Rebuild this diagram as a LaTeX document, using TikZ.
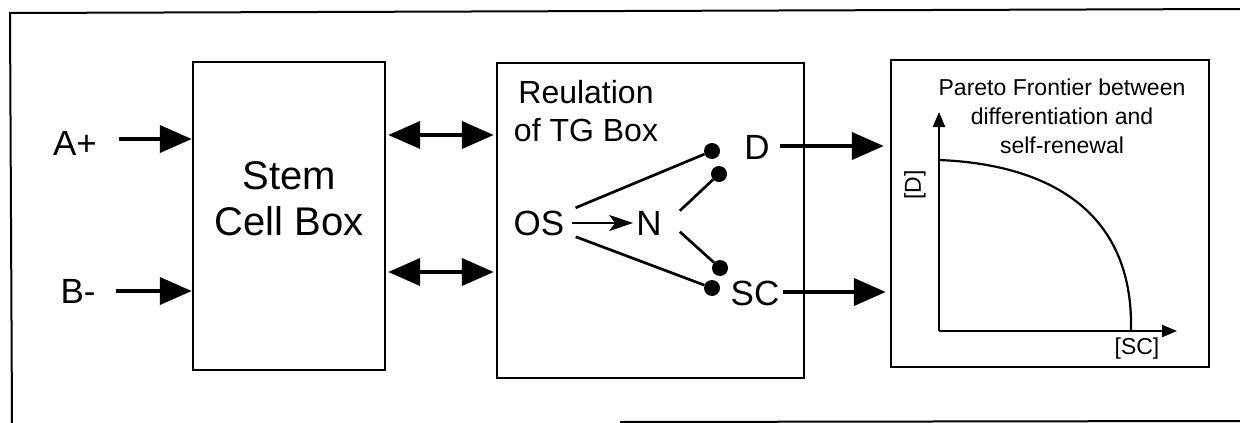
\documentclass[tikz,border=0pt]{standalone}
\usepackage{fontspec}
\setmainfont{Liberation Sans}
\usetikzlibrary{arrows.meta}
\begin{document}
\begin{tikzpicture}[x=1pt,y=-1pt,
  box/.style={draw,line width=2.4pt,inner sep=0,fill=none},
  txt/.style={inner sep=0,align=center},
  bigarrow/.style={line width=4pt,-{Triangle[length=32pt,width=27pt]}},
  dblarrow/.style={line width=4pt,{Triangle[length=32pt,width=27pt]}-{Triangle[length=32pt,width=27pt]}},
  thinarrow/.style={line width=2.2pt,-{Stealth[length=24pt,width=16pt,inset=6pt]}},
  link/.style={line width=2.7pt},
  dot/.style={circle,fill=black,inner sep=0,minimum size=16pt},
  axis/.style={line width=2.4pt,-{Triangle[length=15pt,width=12pt]}},
  big/.style={font=\fontsize{40}{46}\selectfont},
  mid/.style={font=\fontsize{35}{40}\selectfont},
  reg/.style={font=\fontsize{32}{38}\selectfont},
  small/.style={font=\fontsize{23}{29}\selectfont},
]
\useasboundingbox (0,0) rectangle (1240,423);
% outer frame (partly cut off)
\draw[line width=2pt] (1240,9) -- (10,13) -- (12,423);
\draw[line width=2pt] (620,422) -- (1240,421);

% stem cell box
\node[box,minimum width=192pt,minimum height=308pt] (stem) at (289,216) {};
\node[txt,big] (stemtxt) at (289,199) {Stem\\Cell Box};
\node[txt,mid] (aplus) at (75,143) {A+};
\node[txt,mid] (bminus) at (78,291) {B-};
\draw[bigarrow] ([xshift=22pt,yshift=4pt]aplus.east) -- ([yshift=4pt]aplus.east -| stem.west);
\draw[bigarrow] ([xshift=20pt]bminus.east) -- (bminus.east -| stem.west);

% regulation box
\node[box,minimum width=307pt,minimum height=315pt] (reg) at (650.5,220.5) {};
\node[txt,reg] (regtxt) at (586,111) {Reulation\\of TG Box};
\coordinate (u1) at (0,135);
\coordinate (u2) at (0,272);
\draw[dblarrow] ([xshift=2pt]stem.east |- u1) -- ([xshift=-2pt]reg.west |- u1);
\draw[dblarrow] ([xshift=2pt]stem.east |- u2) -- ([xshift=-2pt]reg.west |- u2);

\node[txt,mid] (os) at (539,223) {OS};
\node[txt,mid] (n) at (649,223) {N};
\draw[thinarrow] ([xshift=8pt]os.east) -- ([xshift=-3pt]n.west);
\node[dot] (d1) at (712,151) {};
\node[dot] (d2) at (719,174) {};
\node[dot] (d3) at (720,268) {};
\node[dot] (d4) at (712,288) {};
\draw[link,shorten <=12pt] (os) -- (d1);
\draw[link,shorten <=12pt] (os) -- (d4);
\draw[link] ([xshift=18pt]n.north east) -- (d2);
\draw[link] ([xshift=18pt,yshift=3.5pt]n.south east) -- (d3);
\node[txt,mid] (dlab) at (757,147) {D};
\node[txt,mid] (sclab) at (755,293) {SC};

% pareto box
\node[box,minimum width=318pt,minimum height=307pt] (par) at (1050,213.5) {};
\draw[bigarrow] ([xshift=10pt,yshift=1pt]dlab.east) -- ([xshift=-6pt,yshift=1pt]dlab.east -| par.west);
\draw[bigarrow] ([xshift=3pt,yshift=1pt]sclab.east) -- ([xshift=-4pt,yshift=1pt]sclab.east -| par.west);
\node[txt,small] (title) at (1062,116) {Pareto Frontier between\\differentiation and\\self-renewal};
\coordinate (o) at (939,331);
\coordinate (ytip) at (939,112);
\coordinate (xtip) at (1177,331);
\coordinate (cstart) at (939,160);
\coordinate (cend) at (1131,331);
\draw[axis] (o) -- (ytip);
\draw[axis] (o) -- (xtip);
\draw[line width=2.2pt] (cstart) .. controls (1040,164) and (1134,205) .. (cend);
\node[txt,small,rotate=90] (dax) at (915,185) {[D]};
\node[txt,small] (scax) at (1137,349) {[SC]};
\end{tikzpicture}
\end{document}
